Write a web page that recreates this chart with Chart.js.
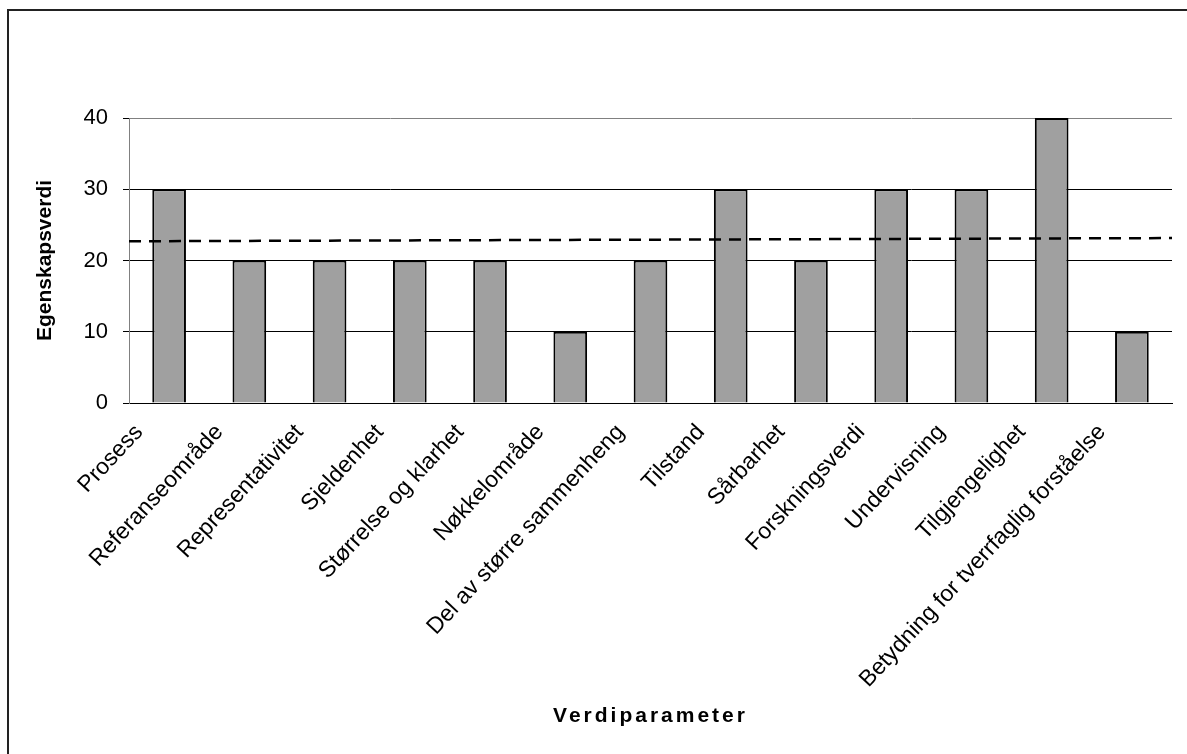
<!DOCTYPE html>
<html>
<head>
<meta charset="utf-8">
<script src="https://cdn.jsdelivr.net/npm/chart.js@4.4.1/dist/chart.umd.min.js"></script>
<style>
    html, body { margin:0; padding:0; background:#fff; overflow:hidden; }
    #wrap { position:relative; width:1187px; height:754px; }
    #frame { position:absolute; left:7px; top:9px; width:1300px; height:900px; border-left:2px solid #222; border-top:2px solid #222; }
    canvas { position:absolute; left:0; top:0; }
</style>
</head>
<body>
<div id="wrap">
    <div id="frame"></div>
    <canvas id="chart" width="1187" height="754"></canvas>
</div>

<script>

// VALUES PER PARAMETER
const categories = [
    "Prosess",
    "Referanseområde",
    "Representativitet",
    "Sjeldenhet",
    "Størrelse og klarhet",
    "Nøkkelområde",
    "Del av større sammenheng",
    "Tilstand",
    "Sårbarhet",
    "Forskningsverdi",
    "Undervisning",
    "Tilgjengelighet",
    "Betydning for tverrfaglig forståelse"
];

const scores = [30, 20, 20, 20, 20, 10, 20, 30, 20, 30, 30, 40, 10];

// dashed reference line, start and end level
const meanLine = [22.7, 23.15];

const yTicks = [0, 10, 20, 30, 40];


// FIX AXIS SIZES SO THE PLOT SITS WHERE WE WANT IT
function fixWidth(w){
    return scale => { scale.width = w; };
}

function fixHeight(h){
    return scale => { scale.height = h; };
}


// WIDER LETTER SPACING FOR AN AXIS TITLE
function spacedTitle(px){
    return scale => {
        if(scale._spaced) return;
        const draw = scale.drawTitle.bind(scale);
        scale.drawTitle = () => {
            scale.ctx.save();
            scale.ctx.letterSpacing = px + "px";
            draw();
            scale.ctx.restore();
        };
        scale._spaced = true;
    };
}


const FONT = "Liberation Sans, Arial, sans-serif";

const ctx = document.getElementById("chart");

new Chart(ctx, {
    type:"bar",
    data:{
        labels:categories,
        datasets:[
            {
                type:"line",
                data:[{x:0, y:meanLine[0]}, {x:1, y:meanLine[1]}],
                xAxisID:"xLine",
                borderColor:"#000",
                borderWidth:2.5,
                borderDash:[12, 8],
                pointRadius:0,
                fill:false,
                order:0
            },
            {
                data:scores,
                backgroundColor:"#a0a0a0",
                borderColor:"#000",
                borderWidth:2,
                grouped:false,
                barPercentage:0.42,
                categoryPercentage:1,
                order:1
            }
        ]
    },
    options:{
        responsive:false,
        animation:false,
        layout:{
            padding:{left:0, top:118, right:15, bottom:0}
        },
        plugins:{
            legend:{display:false},
            tooltip:{enabled:false}
        },
        scales:{
            x:{
                offset:true,
                grid:{display:false},
                border:{display:true, color:"#000", width:1},
                ticks:{
                    autoSkip:false,
                    maxRotation:47,
                    minRotation:47,
                    padding:8,
                    labelOffset:-30,
                    color:"#000",
                    font:{family:FONT, size:23}
                },
                title:{
                    display:true,
                    text:"Verdiparameter",
                    color:"#000",
                    padding:25,
                    font:{family:FONT, size:21, weight:"bold"}
                },
                afterFit:fixHeight(351),
                afterUpdate:spacedTitle(3)
            },
            xLine:{
                type:"linear",
                display:false,
                offset:false,
                min:0,
                max:1
            },
            y:{
                min:0,
                max:40,
                afterBuildTicks:scale => {
                    scale.ticks = yTicks.map(v => ({value:v}));
                },
                grid:{
                    // top line is lighter, like the axis
                    color:c => c.tick && c.tick.value === 40 ? "#808080" : "#000",
                    tickColor:"#000",
                    tickLength:6
                },
                border:{display:true, color:"#808080", width:1},
                ticks:{
                    padding:15,
                    color:"#000",
                    font:{family:FONT, size:22}
                },
                title:{
                    display:true,
                    text:"Egenskapsverdi",
                    color:"#000",
                    padding:33,
                    font:{family:FONT, size:21, weight:"bold"}
                },
                afterFit:fixWidth(129)
            }
        }
    }
});

</script>
</body>
</html>
